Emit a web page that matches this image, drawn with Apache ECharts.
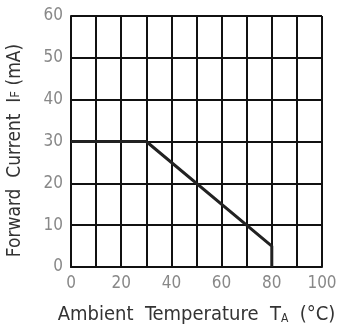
<!DOCTYPE html>
<html>
<head>
<meta charset="utf-8">
<script src="https://cdn.jsdelivr.net/npm/echarts@6/dist/echarts.min.js"></script>
<style>
html, body { margin: 0; padding: 0; background: #fff; }
#chart { width: 345px; height: 335px; }
</style>
</head>
<body>
<div id="chart"></div>
<script>
// derating curve: forward current vs ambient temperature
var tempC = [0, 30, 80, 80];
var currentMA = [30, 30, 5, 0];
var xTicks = [0, 100, 10];   // min, max, step
var yTicks = [0, 60, 10];

var font = "'Liberation Sans Narrow', 'DejaVu Sans Condensed', sans-serif";

var chart = echarts.init(document.getElementById('chart'));
chart.setOption({
    animation: false,
    grid: {
        left: 71,
        top: 16,
        width: 251,
        height: 251,
        outerBoundsMode: 'none'
    },
    xAxis: {
        type: 'value',
        min: xTicks[0],
        max: xTicks[1],
        interval: xTicks[2],
        name: '{n|Ambient  Temperature  T}{s|A}{n|  (°C)}',
        nameLocation: 'middle',
        nameGap: 38,
        nameTextStyle: {
            rich: {
                n: { fontFamily: font, fontSize: 20, color: '#333' },
                s: { fontFamily: font, fontSize: 12, color: '#333', verticalAlign: 'bottom', padding: [8, 0, 0, 0] }
            }
        },
        axisLine: { show: true, lineStyle: { color: '#111', width: 2 } },
        axisTick: { show: false },
        splitLine: { show: true, lineStyle: { color: '#111', width: 2 } },
        axisLabel: {
            margin: 8,
            color: '#888',
            fontFamily: font,
            fontSize: 17,
            formatter: function (v) { return v % 20 === 0 ? v : ''; }
        }
    },
    yAxis: {
        type: 'value',
        min: yTicks[0],
        max: yTicks[1],
        interval: yTicks[2],
        name: '{n|Forward  Current  I}{s|F}{n| (mA)}',
        nameLocation: 'middle',
        nameRotate: 90,
        nameGap: 46,
        nameTextStyle: {
            padding: [0, 18, 0, 0],
            rich: {
                n: { fontFamily: font, fontSize: 19, color: '#333' },
                s: { fontFamily: font, fontSize: 13, color: '#333' }
            }
        },
        axisLine: { show: true, lineStyle: { color: '#111', width: 2 } },
        axisTick: { show: false },
        splitLine: { show: true, lineStyle: { color: '#111', width: 2 } },
        axisLabel: {
            margin: 8,
            color: '#888',
            fontFamily: font,
            fontSize: 17
        }
    },
    series: [{
        type: 'line',
        data: tempC.map(function (t, i) { return [t, currentMA[i]]; }),
        symbol: 'none',
        lineStyle: { color: '#222', width: 3 }
    }]
});
</script>
</body>
</html>
